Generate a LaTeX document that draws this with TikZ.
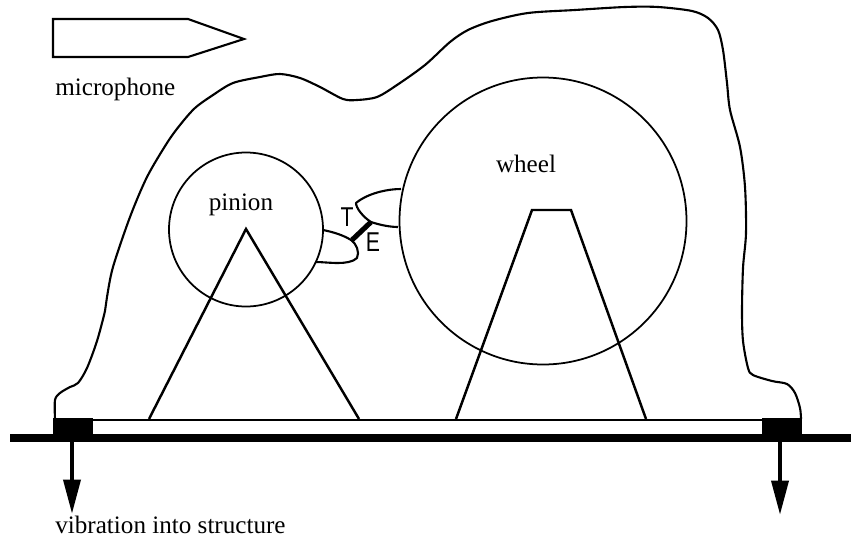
\documentclass[tikz,border=0pt]{standalone}
\usepackage{fontspec}
\setmainfont{Liberation Serif}
\newfontfamily\labelsans{Liberation Sans}
\usetikzlibrary{arrows.meta}
\tikzset{
  outline/.style={line width=1.2pt, line join=round},
  support/.style={line width=1.4pt, line join=miter},
  label/.style={font=\fontsize{14.3}{16}\selectfont, inner sep=0pt},
  mark label/.style={font=\labelsans\fontsize{15.5}{17}\selectfont, inner sep=0pt, xscale=0.78, transform shape},
  vibration/.style={line width=2.5pt, -{Triangle[length=19.5pt, width=9.5pt]}}
}
\begin{document}
\begin{tikzpicture}[x=0.02cm, y=-0.02cm]
  \useasboundingbox (0,0) rectangle (851,537);
  % microphone
  \draw[outline, line join=miter] (53,19) -- (188,19) -- (244,39) -- (188,57) -- (53,57) -- cycle;
  \node[label, anchor=base west] (mic) at (55,95) {microphone};
  % housing
  \draw[outline] plot[smooth, tension=0.5] coordinates {
    (55,419) (55,400) (60,393) (70,387) (78,383) (87,368) (97,341) (105,311)
    (107,297) (113,267) (130,217) (147,177) (167,143) (180,125) (195,108)
    (213,95) (233,83) (260,77) (280,74) (300,78) (320,87) (343,99) (357,100)
    (377,97) (397,85) (425,65) (450,42) (468,30) (492,21) (528,13) (575,10)
    (625,7) (658,7) (692,11) (708,18) (718,30) (723,50) (727,83) (730,110)
    (740,147) (745,187) (746,233) (743,268) (742,311) (743,341) (748,368)
    (753,375) (772,381) (787,384) (795,393) (800,408) (801,419)};
  % gears
  \node[circle, draw, line width=1pt, minimum size=154*0.02cm, inner sep=0pt] (pinion) at (246,229.5) {};
  \node[circle, draw, line width=1pt, minimum size=287*0.02cm, inner sep=0pt] (wheel) at (543,221) {};
  \node[label, anchor=base] (pinion label) at (241,210) {pinion};
  \node[label, anchor=base] (wheel label) at (526,172) {wheel};
  % supports
  \draw[support] (149,419) -- (246,229) -- (359,419);
  \draw[support] (456,419) -- (532,210) -- (571,210) -- (646,419);
  % teeth and the contact between them
  \draw[outline] (323,230) .. controls (333,232) and (343,235) .. (351,240)
    .. controls (356,243) and (360,252) .. (357,258)
    .. controls (353,262) and (345,263) .. (338,263)
    .. controls (330,263) and (322,262) .. (315,262);
  \draw[outline] (401,189) .. controls (388,189) and (368,193) .. (356,203)
    .. controls (356,208) and (363,217) .. (371,222)
    .. controls (380,225) and (390,227) .. (398,227);
  \draw[line width=2.9pt] (352,240) -- (371,222);
  \node[mark label] (T) at (347,217) {T};
  \node[mark label] (E) at (373,242) {E};
  % base plate and structure
  \draw[line width=0.9pt] (93,420) -- (762,420);
  \fill (10,434) rectangle (851,442);
  \fill (53,418) rectangle (93,442);
  \fill (762,418) rectangle (802,442);
  % vibration paths
  \coordinate (left foot) at (72,442);
  \coordinate (left end) at (72,514);
  \coordinate (right foot) at (780,442);
  \coordinate (right end) at (780,515);
  \draw[vibration] (left foot) -- (left end);
  \draw[vibration] (right foot) -- (right end);
  \node[label, anchor=base west] (vib) at (55,533) {vibration into structure};
\end{tikzpicture}
\end{document}
